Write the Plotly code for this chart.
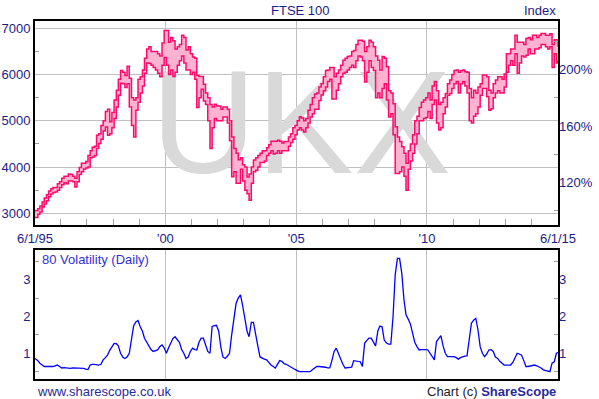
import pandas as pd
import plotly.graph_objects as go

# ---------------- data (monthly, Jan 1995 .. Jan 2015) ----------------
ftse_high = [
    3060, 3100, 3160, 3245, 3330, 3400, 3480, 3530, 3560, 3560, 3640, 3680,  # 1995
    3760, 3800, 3800, 3850, 3840, 3800, 3760, 3900, 3990, 4080, 4080, 4120,  # 1996
    4250, 4350, 4430, 4450, 4690, 4720, 4900, 5000, 5200, 5250, 4980, 5180,  # 1997
    5450, 5660, 5900, 6090, 6050, 5980, 6180, 5920, 5500, 5450, 5500, 5900,  # 1998
    5950, 6100, 6350, 6550, 6600, 6500, 6500, 6500, 6450, 6400, 6680, 6950,  # 1999
    6950, 6700, 6800, 6730, 6550, 6600, 6650, 6850, 6800, 6530, 6600, 6450,  # 2000
    6380, 6350, 5980, 5960, 5960, 5790, 5600, 5500, 5350, 5300, 5360, 5320,  # 2001
    5320, 5250, 5300, 5300, 5250, 5000, 4650, 4400, 4300, 4160, 4200, 4050,  # 2002
    4000, 3785, 3850, 4000, 4150, 4200, 4250, 4300, 4350, 4350, 4420, 4480,  # 2003
    4560, 4560, 4560, 4580, 4560, 4520, 4550, 4550, 4650, 4720, 4850, 4900,  # 2004
    5000, 5090, 5060, 5000, 5050, 5230, 5350, 5500, 5580, 5600, 5730, 5800,  # 2005
    5950, 6090, 6100, 6150, 6150, 5950, 6030, 6100, 6200, 6310, 6350, 6390,  # 2006
    6400, 6500, 6520, 6650, 6740, 6740, 6720, 6500, 6600, 6740, 6700, 6600,  # 2007
    6400, 6310, 6100, 6390, 6350, 6170, 5650, 5600, 5370, 4870, 4650, 4550,  # 2008
    4440, 4300, 4080, 4350, 4500, 4700, 5000, 5100, 5290, 5400, 5450, 5500,  # 2009
    5600, 5450, 5750, 5850, 5650, 5350, 5400, 5500, 5590, 5800, 5880, 6000,  # 2010
    6090, 6100, 6050, 6080, 6100, 6060, 6050, 5700, 5500, 5660, 5600, 5730,  # 2011
    5800, 5990, 5990, 5950, 5660, 5600, 5800, 5880, 5950, 5950, 5900, 6010,  # 2012
    6450, 6450, 6550, 6550, 6850, 6700, 6700, 6700, 6650, 6780, 6800, 6750,  # 2013
    6850, 6850, 6800, 6850, 6890, 6890, 6850, 6850, 6880, 6650, 6750, 6750,  # 2014
    6600,                                                                    # 2015
]
ftse_low = [
    2910, 2980, 3030, 3135, 3200, 3270, 3360, 3420, 3450, 3460, 3500, 3560,  # 1995
    3620, 3660, 3640, 3700, 3700, 3680, 3570, 3680, 3840, 3900, 3960, 3980,  # 1996
    4000, 4200, 4220, 4250, 4400, 4510, 4600, 4780, 4865, 4690, 4720, 4850,  # 1997
    5050, 5300, 5550, 5810, 5800, 5720, 5800, 5300, 4900, 4650, 5230, 5400,  # 1998
    5600, 5750, 6030, 6250, 6240, 6200, 6150, 6100, 6030, 5950, 6200, 6370,  # 1999
    6200, 6000, 6100, 5960, 6050, 6200, 6300, 6400, 6250, 6100, 6100, 6000,  # 2000
    6050, 5900, 5290, 5500, 5680, 5430, 5350, 5000, 4400, 4850, 5050, 5000,  # 2001
    5000, 5000, 5080, 5080, 4950, 4570, 3790, 3900, 3650, 3650, 3950, 3700,  # 2002
    3500, 3425, 3280, 3650, 3900, 3930, 4000, 4100, 4100, 4130, 4250, 4300,  # 2003
    4350, 4280, 4300, 4350, 4300, 4350, 4350, 4350, 4450, 4530, 4600, 4700,  # 2004
    4800, 4850, 4800, 4760, 4850, 4950, 5080, 5150, 5250, 5250, 5440, 5560,  # 2005
    5650, 5730, 5850, 5900, 5470, 5470, 5660, 5800, 5950, 6030, 6050, 6100,  # 2006
    6150, 6200, 6150, 6300, 6400, 6380, 6300, 5840, 6050, 6300, 6150, 6090,  # 2007
    5500, 5600, 5500, 5700, 5800, 5450, 5080, 5150, 4700, 3860, 3860, 3900,  # 2008
    4000, 3800, 3500, 3950, 4130, 4300, 4500, 4720, 5000, 5000, 5050, 5070,  # 2009
    5200, 5050, 5350, 5450, 4950, 4800, 4850, 5150, 5300, 5550, 5590, 5700,  # 2010
    5800, 5850, 5600, 5800, 5850, 5750, 5600, 5000, 4950, 5100, 5150, 5300,  # 2011
    5550, 5700, 5700, 5520, 5230, 5260, 5500, 5600, 5650, 5600, 5600, 5730,  # 2012
    6050, 6200, 6300, 6200, 6450, 6030, 6250, 6400, 6380, 6420, 6550, 6450,  # 2013
    6450, 6550, 6550, 6580, 6650, 6650, 6600, 6550, 6600, 6150, 6450, 6250,  # 2014
    6310,                                                                    # 2015
]
volatility = [
    0.86, 0.80, 0.73, 0.68, 0.64, 0.64, 0.63, 0.64, 0.64, 0.66, 0.68, 0.64,  # 1995
    0.60, 0.61, 0.60, 0.60, 0.59, 0.60, 0.60, 0.61, 0.60, 0.60, 0.59, 0.57,  # 1996
    0.56, 0.68, 0.70, 0.70, 0.69, 0.68, 0.70, 0.82, 0.88, 0.95, 1.08, 1.18,  # 1997
    1.27, 1.26, 1.20, 1.00, 0.90, 0.86, 0.90, 1.00, 1.41, 1.75, 1.85, 1.89,  # 1998
    1.72, 1.60, 1.41, 1.30, 1.22, 1.10, 1.05, 1.06, 1.09, 1.18, 1.23, 1.15,  # 1999
    1.00, 1.15, 1.28, 1.40, 1.45, 1.38, 1.30, 1.10, 1.00, 0.86, 0.90, 1.05,  # 2000
    1.14, 1.10, 1.09, 1.30, 1.41, 1.41, 1.25, 1.05, 1.00, 1.73, 1.75, 1.76,  # 2001
    1.60, 1.15, 0.90, 0.86, 0.92, 1.00, 1.50, 1.95, 2.36, 2.50, 2.59, 2.30,  # 2002
    1.95, 1.60, 1.45, 1.84, 1.84, 1.45, 1.20, 0.90, 0.86, 0.84, 0.82, 0.75,  # 2003
    0.68, 0.64, 0.60, 0.70, 0.80, 0.78, 0.72, 0.70, 0.66, 0.64, 0.60, 0.56,  # 2004
    0.53, 0.50, 0.50, 0.50, 0.50, 0.50, 0.50, 0.55, 0.60, 0.64, 0.64, 0.64,  # 2005
    0.64, 0.62, 0.60, 0.60, 0.80, 1.05, 1.14, 1.00, 0.82, 0.70, 0.60, 0.60,  # 2006
    0.60, 0.62, 0.80, 0.79, 0.78, 0.77, 0.64, 1.27, 1.35, 1.41, 1.41, 1.30,  # 2007
    1.20, 1.60, 1.74, 1.72, 1.36, 1.28, 1.25, 1.25, 2.00, 3.13, 3.58, 3.58,  # 2008
    3.18, 2.45, 2.05, 1.93, 1.80, 1.55, 1.30, 1.18, 1.09, 1.10, 1.11, 1.10,  # 2009
    1.09, 1.00, 0.90, 0.82, 1.32, 1.40, 1.48, 1.20, 1.00, 0.91, 0.91, 0.91,  # 2010
    0.91, 0.88, 0.84, 0.88, 0.91, 0.92, 0.93, 1.36, 1.82, 1.90, 1.95, 1.64,  # 2011
    1.18, 1.00, 0.91, 0.98, 1.09, 1.10, 1.05, 0.90, 0.86, 0.78, 0.72, 0.68,  # 2012
    0.68, 0.68, 0.68, 0.75, 0.86, 1.00, 0.98, 0.95, 0.80, 0.64, 0.64, 0.65,  # 2013
    0.67, 0.68, 0.66, 0.64, 0.60, 0.55, 0.53, 0.50, 0.50, 0.73, 0.77, 1.00,  # 2014
    1.02,                                                                    # 2015
]
index_base = 3054  # index value treated as 100%

start_date, end_date = "1995-01-06", "2015-01-06"
mid_months = pd.date_range("1995-02-01", "2014-12-01", freq="MS") + pd.Timedelta(days=14)
dates = [start_date] + [d.strftime("%Y-%m-%d") for d in mid_months] + [end_date]
assert len(dates) == len(ftse_high) == len(ftse_low) == len(volatility)

price_ticks = [3000, 4000, 5000, 6000, 7000]
price_minor = [3500, 4500, 5500, 6500]
pct_ticks = [120, 160, 200]
pct_minor = [100, 140, 180, 220]
vol_ticks = [1, 2, 3]
vol_minor = [0.5, 1.5, 2.5, 3.5]
x_tickvals = [start_date, "2000-01-01", "2005-01-01", "2010-01-01", end_date]
x_ticktext = ["6/1/95", "'00", "'05", "'10", "6/1/15"]
year_minor = [f"{y}-01-01" for y in range(1996, 2015) if y not in (2000, 2005, 2010)]

price_range = [2747, 7158]
vol_range = [0.30, 3.81]

# ---------------- style ----------------
W, H = 599, 399
NAVY = "#1c1c86"
GRID = "#c0c0c0"
PINK_LINE = "#ff0a6a"
PINK_FILL = "#ffb3d1"
FONT = "Arial, Liberation Sans, sans-serif"

def fx(p):
    return p / W

def fy(p):
    return 1 - p / H

xdom = [fx(35), fx(558)]

fig = go.Figure()

# watermark
fig.add_trace(go.Scatter(
    x=["2005-03-10"], y=[4660], mode="text", text=["UKX"],
    textfont=dict(family=FONT, size=146, color="#d9d9d9"),
    textposition="middle center", hoverinfo="skip", xaxis="x", yaxis="y", cliponaxis=False,
))
fig.add_trace(go.Scatter(
    x=dates, y=ftse_low, mode="lines", line=dict(color=PINK_LINE, width=1.5, shape="hv"),
    xaxis="x", yaxis="y", hoverinfo="skip",
))
fig.add_trace(go.Scatter(
    x=dates, y=ftse_high, mode="lines", line=dict(color=PINK_LINE, width=1.5, shape="hv"),
    fill="tonexty", fillcolor=PINK_FILL, xaxis="x", yaxis="y", hoverinfo="skip",
))
# invisible carrier for right-hand index axis
fig.add_trace(go.Scatter(
    x=dates, y=[v / index_base * 100 for v in ftse_high], mode="lines",
    line=dict(width=0), opacity=0, xaxis="x", yaxis="y2", hoverinfo="skip",
))
fig.add_trace(go.Scatter(
    x=dates, y=volatility, mode="lines", line=dict(color="#0000ff", width=1.3),
    xaxis="x2", yaxis="y3", hoverinfo="skip",
))
fig.add_trace(go.Scatter(
    x=dates, y=volatility, mode="lines", line=dict(width=0), opacity=0,
    xaxis="x2", yaxis="y4", hoverinfo="skip",
))

frame = dict(showline=True, linecolor="black", linewidth=2, mirror=True)
minor_style = dict(ticks="inside", ticklen=4, tickcolor="#a0a0a0", tickwidth=1, showgrid=False)
common = dict(automargin=False, zeroline=False)

fig.update_layout(
    template="none",
    width=W, height=H, margin=dict(l=0, r=0, t=0, b=0, pad=0),
    paper_bgcolor="white", plot_bgcolor="white", showlegend=False,
    font=dict(family=FONT, size=13, color=NAVY),
    xaxis=dict(
        domain=xdom, anchor="y", type="date", range=[start_date, end_date],
        tickmode="array", tickvals=x_tickvals, ticktext=x_ticktext, ticks="",
        showgrid=True, gridcolor=GRID, gridwidth=1,
        minor=dict(tickvals=year_minor, **{**minor_style, "ticklen": 6}),
        tickfont=dict(size=13, color=NAVY), **frame, **common,
    ),
    yaxis=dict(
        domain=[fy(225), fy(21)], anchor="x", range=price_range,
        tickmode="array", tickvals=price_ticks, ticks="",
        showgrid=True, gridcolor=GRID, gridwidth=1,
        minor=dict(tickvals=price_minor, **minor_style),
        tickfont=dict(size=13, color=NAVY), **frame, **common,
    ),
    yaxis2=dict(
        overlaying="y", side="right", anchor="x", range=[price_range[0] / index_base * 100,
                                                         price_range[1] / index_base * 100],
        tickmode="array", tickvals=pct_ticks, ticktext=[f"{v}%" for v in pct_ticks], ticks="",
        showgrid=False, showline=False,
        minor=dict(tickvals=pct_minor, **minor_style),
        tickfont=dict(size=13, color=NAVY), **common,
    ),
    xaxis2=dict(
        domain=xdom, anchor="y3", type="date", range=[start_date, end_date],
        tickmode="array", tickvals=x_tickvals[1:4], showticklabels=False, ticks="",
        showgrid=True, gridcolor=GRID, gridwidth=1, **frame, **common,
    ),
    yaxis3=dict(
        domain=[fy(379), fy(250)], anchor="x2", range=vol_range,
        tickmode="array", tickvals=vol_ticks, ticks="",
        showgrid=False,
        minor=dict(tickvals=vol_minor, **minor_style),
        tickfont=dict(size=13, color=NAVY), **frame, **common,
    ),
    yaxis4=dict(
        overlaying="y3", side="right", anchor="x2", range=vol_range,
        tickmode="array", tickvals=vol_ticks, ticks="",
        showgrid=False, showline=False,
        minor=dict(tickvals=vol_minor, **minor_style),
        tickfont=dict(size=13, color=NAVY), **common,
    ),
)

def note(text, x, y, anchor="center", color=NAVY, size=13):
    fig.add_annotation(text=text, x=fx(x), y=fy(y), xref="paper", yref="paper",
                       xanchor=anchor, yanchor="middle", showarrow=False,
                       font=dict(family=FONT, size=size, color=color))

note("FTSE 100", 300, 10)
note("Index", 558, 10, anchor="right")
note("80 Volatility (Daily)", 40, 259, anchor="left", color="#3030d8")
note("www.sharescope.co.uk", 35, 391, anchor="left", color="#2a2a9a")
note("<span style='color:#222222'>Chart (c) </span><b>ShareScope</b>", 558, 391,
     anchor="right", color="#2a2a9a")

fig.write_html("out.html", config={"displayModeBar": False},
               post_script="document.body.style.margin='0';")
